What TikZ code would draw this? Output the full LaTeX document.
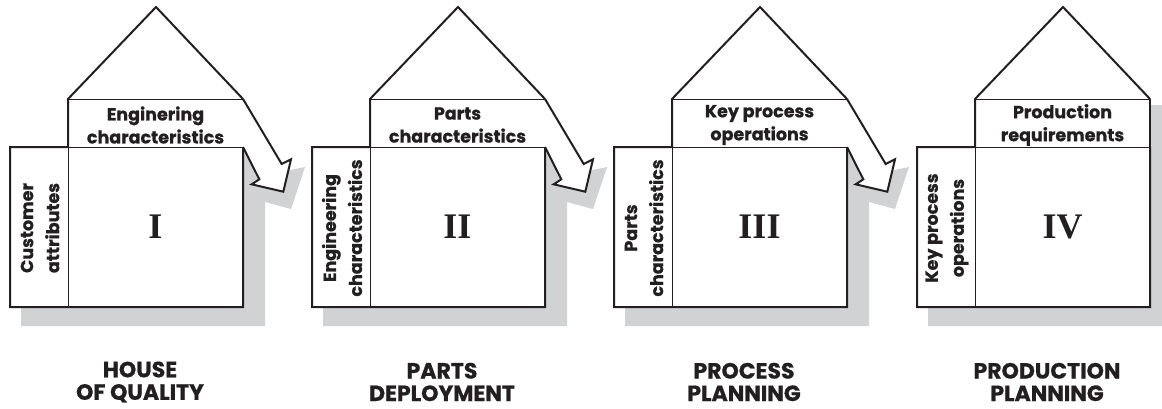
\documentclass[tikz,border=0pt]{standalone}
\usepackage{fontspec}
\setmainfont{Liberation Serif}
\newfontfamily\geofont[BoldFeatures={FakeBold=0.8}]{Poppins}
\usepackage{tikz}
\usetikzlibrary{positioning}
\definecolor{ink}{RGB}{35,31,32}
\definecolor{shadowgray}{RGB}{209,210,212}

\begin{document}
\begin{tikzpicture}[x=1pt, y=-1pt,
    outline/.style={draw=ink, line width=2pt, line join=miter},
    thinline/.style={draw=ink, line width=0.9pt},
    celltext/.style={text=ink, align=center, inner sep=0pt, font=\geofont\bfseries\fontsize{17.5}{23}\selectfont},
    sidetext/.style={celltext, rotate=90, font=\geofont\bfseries\fontsize{17.5}{26}\selectfont},
    numtext/.style={text=ink, inner sep=0pt, font=\bfseries\fontsize{36}{36}\selectfont},
    titletext/.style={text=ink, align=center, inner sep=0pt, font=\geofont\bfseries\fontsize{22}{22.5}\selectfont}]
    \useasboundingbox (0,0) rectangle (1162,408);

    % Four houses, left to right
    \foreach \n/\x/\head/\side/\rom/\ttl in {
        1/10/{Enginering\\characteristics}/{Customer\\attributes}/I/{HOUSE\\OF QUALITY},
        2/312/{Parts\\characteristics}/{Engineering\\characteristics}/II/{PARTS\\DEPLOYMENT},
        3/614/{Key process\\operations}/{Parts\\characteristics}/III/{PROCESS\\PLANNING},
        4/917/{Production\\requirements}/{Key process\\operations}/IV/{PRODUCTION\\PLANNING}}{
        \begin{scope}[xshift=\x]
            % Shadow
            \ifnum\n<4
                \fill[shadowgray] (233,147) -- (260,150) -- (270,172) -- (295,167) -- (281,209)
                    -- (255,202) -- (255,326) -- (11,326) -- (11,307) -- (233,307) -- cycle;
            \else
                \fill[shadowgray] (233,105) -- (245,105) -- (245,326) -- (11,326) -- (11,307)
                    -- (233,307) -- cycle;
            \fi

            % Rooms and roof
            \fill[white] (0,147) rectangle (233,307);
            \draw[thinline] (58,99) rectangle (233,147);
            \draw[thinline] (58,147) -- (58,307);
            \draw[outline] (233,147) -- (233,307) -- (0,307) -- (0,147) -- (58,147)
                -- (58,99) -- (146,7) -- (233,99);
            \ifnum\n=4
                \draw[outline] (233,99) -- (233,147);
            \fi

            % Hand-over arrow
            \ifnum\n<4
                \draw[outline, fill=white] (233,99) -- (271.7,164) -- (281,159.3) -- (273.3,191.7)
                    -- (241.7,184.3) -- (249.3,179.3) -- (233,147);
            \fi

            % Labels
            \node[celltext] (head\n) at (145.5,125) {\head};
            \node[sidetext] (side\n) at (30,228) {\side};
            \node[numtext] (num\n) at (145.5,227) {\rom};
            \node[titletext] (title\n) at (130,382) {\ttl};
        \end{scope}
    }
\end{tikzpicture}
\end{document}
